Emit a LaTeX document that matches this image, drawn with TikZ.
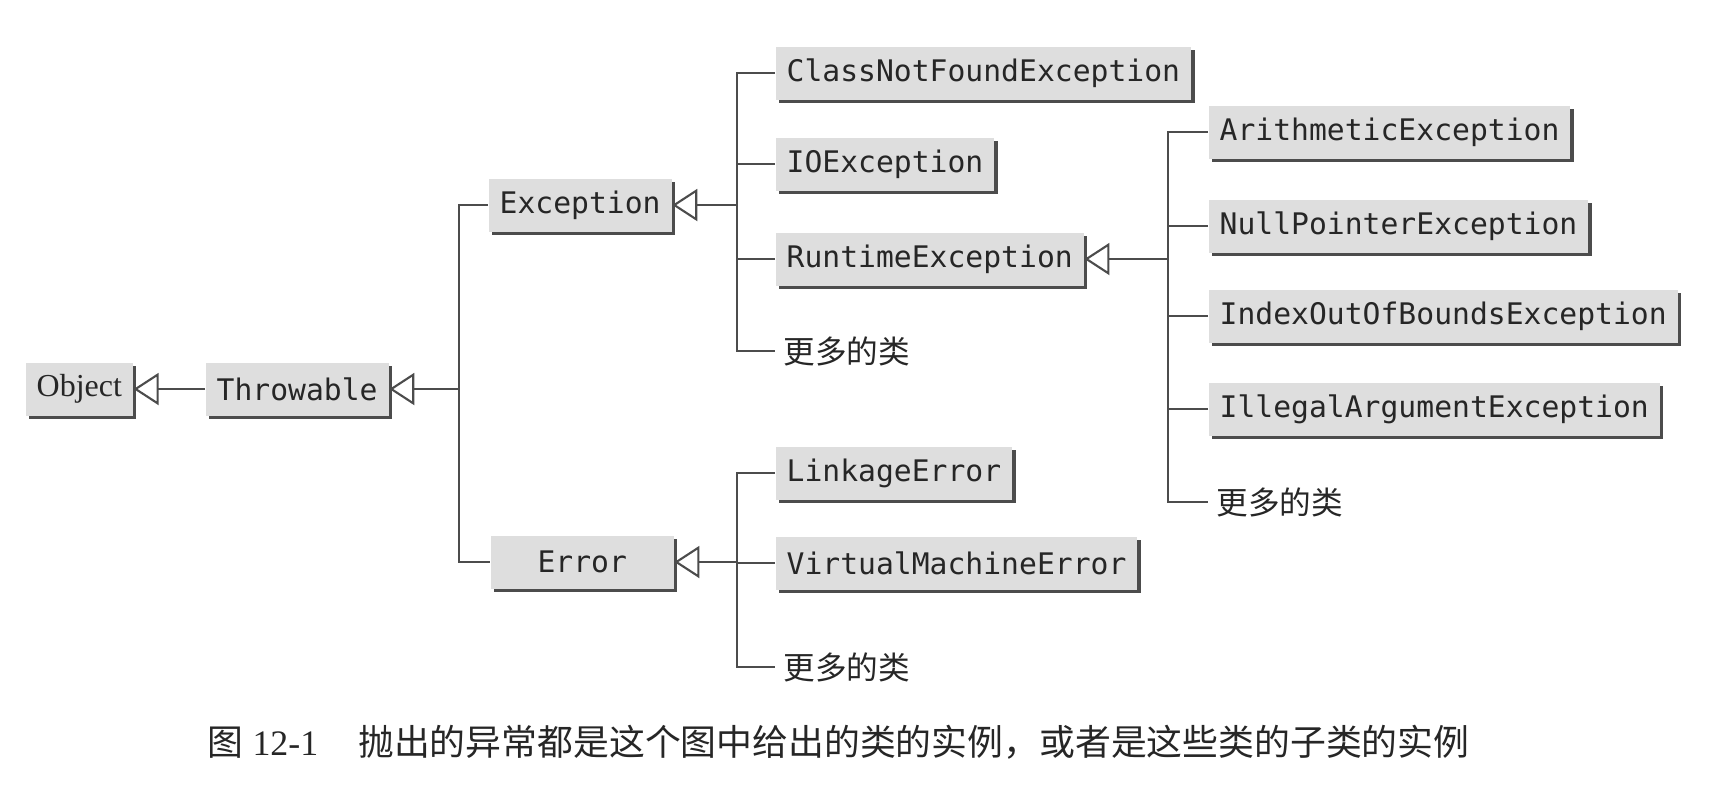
\documentclass[tikz,border=0pt]{standalone}
\usepackage{fontspec}
\setmainfont{Liberation Serif}
\newfontfamily\cjk{Noto Sans CJK SC}
\newfontfamily\codefont{DejaVu Sans Mono}
\usetikzlibrary{arrows.meta,shadows}

\begin{document}
\begin{tikzpicture}[x=0.1mm,y=-0.1mm,
    cls/.style={fill=black!13,drop shadow={shadow xshift=0.35mm,shadow yshift=-0.35mm,fill=black!70,opacity=1},
      inner xsep=1.1mm,minimum height=5.3mm,anchor=west,text=black!85,
      font=\codefont\fontsize{8.45}{10}\selectfont},
    more/.style={anchor=west,inner xsep=0.8mm,text=black!85,font=\cjk\fontsize{9}{11}\selectfont},
    link/.style={draw=black!70,line width=0.6pt},
    inh/.style={link,-{Triangle[open,length=2.5mm,width=3.2mm]}}]
    \useasboundingbox (0,0) rectangle (1721,792);

    \node[cls,font=\rmfamily\fontsize{9.1}{11}\selectfont] (obj) at (25,389) {Object};
    \node[cls] (thr) at (205,389) {Throwable};
    \node[cls] (exc) at (488,205) {Exception};
    \node[cls,minimum width=18.3mm] (err) at (490,562) {Error};

    \node[cls] (cnf) at (775,73) {ClassNotFoundException};
    \node[cls] (io) at (775,164) {IOException};
    \node[cls] (rt) at (775,259) {RuntimeException};
    \node[more] (more1) at (775,351) {更多的类};

    \node[cls] (arith) at (1208,132) {ArithmeticException};
    \node[cls] (np) at (1208,226) {NullPointerException};
    \node[cls] (ioob) at (1208,316) {IndexOutOfBoundsException};
    \node[cls] (iae) at (1208,409) {IllegalArgumentException};
    \node[more] (more2) at (1208,502) {更多的类};

    \node[cls] (lnk) at (775,473) {LinkageError};
    \node[cls] (vme) at (775,563) {VirtualMachineError};
    \node[more] (more3) at (775,667) {更多的类};

    \node[anchor=west,inner sep=0pt,text=black!85,font=\fontsize{10.2}{12}\selectfont] (cap) at (207,742)
      {{\cjk 图} 12-1\hspace{4mm}{\cjk 抛出的异常都是这个图中给出的类的实例，或者是这些类的子类的实例}};

    \coordinate (jthr) at (459,389);
    \coordinate (jexc) at (737,205);
    \coordinate (jerr) at (737,562);
    \coordinate (jrt) at (1168,259);

    \draw[inh] (thr.west) -- (obj.east);
    \draw[inh] (jthr) -- (thr.east);
    \draw[link] (exc.west) -| (jthr) |- (err.west);

    \draw[inh] (jexc) -- (exc.east);
    \draw[link] (cnf.west) -| (jexc) |- (more1.west);
    \foreach \n in {io,rt} \draw[link] (\n.west) -- (\n.west -| jexc);

    \draw[inh] (jrt) -- (rt.east);
    \draw[link] (arith.west) -| (jrt) |- (more2.west);
    \foreach \n in {np,ioob,iae} \draw[link] (\n.west) -- (\n.west -| jrt);

    \draw[inh] (jerr) -- (err.east);
    \draw[link] (lnk.west) -| (jerr) |- (more3.west);
    \draw[link] (vme.west) -- (vme.west -| jerr);
\end{tikzpicture}
\end{document}
